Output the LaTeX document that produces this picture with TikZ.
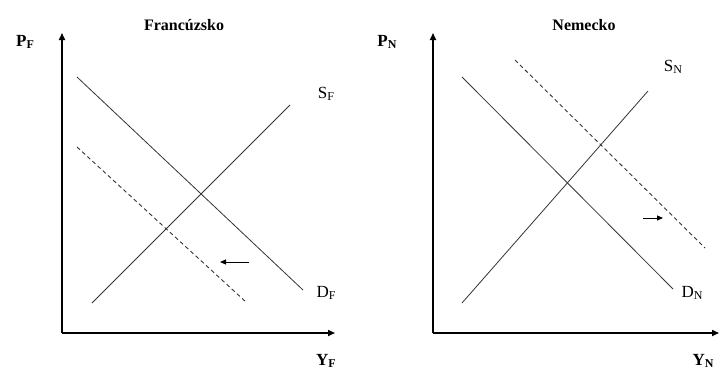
\documentclass[tikz,border=0pt]{standalone}
\usepackage{fontspec}
\setmainfont{Liberation Serif}
\usetikzlibrary{arrows.meta}
\newcommand{\sublab}[2]{#1\raisebox{-0.3ex}{\fontsize{12}{12}\selectfont #2}}
\begin{document}
\begin{tikzpicture}[x=1pt,y=-1pt,
  axis/.style={line width=1.6pt,-{Triangle[length=7pt,width=6pt]}},
  curve/.style={line width=0.8pt,draw=black!80},
  dcurve/.style={line width=0.9pt,draw=black!80,dash pattern=on 4pt off 3pt},
  shiftarrow/.style={line width=1pt,-{Triangle[length=6pt,width=5pt]}},
  title/.style={font=\fontsize{16}{16}\selectfont\bfseries},
  blab/.style={font=\fontsize{17}{17}\selectfont\bfseries},
  rlab/.style={font=\fontsize{17}{17}\selectfont}]
\useasboundingbox (0,0) rectangle (719,372);
% ---------- left panel ----------
\coordinate (oF) at (62,333);
\coordinate (yF) at (62,33);
\coordinate (xF) at (335,333);
\draw[axis] (oF) -- (yF);
\draw[axis] (oF) -- (xF);
\coordinate (dF1) at (77,77);
\coordinate (dF2) at (303,290);
\coordinate (sF1) at (92,303);
\coordinate (sF2) at (290,105);
\coordinate (ddF1) at (77,147);
\coordinate (ddF2) at (246,302);
\draw[curve] (dF1) -- (dF2);
\draw[curve] (sF1) -- (sF2);
\draw[dcurve] (ddF1) -- (ddF2);
\coordinate (aF1) at (249,262);
\coordinate (aF2) at (220,262);
\draw[shiftarrow] (aF1) -- (aF2);
\node[title] (tF) at (184,25) {Francúzsko};
\node[blab] (pF) at (25,42) {\sublab{P}{F}};
\node[rlab] (sFl) at (326,94) {\sublab{S}{F}};
\node[rlab] (dFl) at (326,293) {\sublab{D}{F}};
\node[blab] (yFl) at (326,361) {\sublab{Y}{F}};
% ---------- right panel ----------
\coordinate (oN) at (433,333);
\coordinate (yN) at (433,33);
\coordinate (xN) at (719,333);
\draw[axis] (oN) -- (yN);
\draw[axis] (oN) -- (xN);
\coordinate (dN1) at (462,77);
\coordinate (dN2) at (673,289);
\coordinate (sN1) at (462,303);
\coordinate (sN2) at (648,91);
\coordinate (ddN1) at (515,60);
\coordinate (ddN2) at (705,248);
\draw[curve] (dN1) -- (dN2);
\draw[curve] (sN1) -- (sN2);
\draw[dcurve] (ddN1) -- (ddN2);
\coordinate (aN1) at (643,218);
\coordinate (aN2) at (663,218);
\draw[shiftarrow] (aN1) -- (aN2);
\node[title] (tN) at (584,25) {Nemecko};
\node[blab] (pN) at (387,42) {\sublab{P}{N}};
\node[rlab] (sNl) at (673,67) {\sublab{S}{N}};
\node[rlab] (dNl) at (692,293) {\sublab{D}{N}};
\node[blab] (yNl) at (703,361) {\sublab{Y}{N}};
\end{tikzpicture}
\end{document}
